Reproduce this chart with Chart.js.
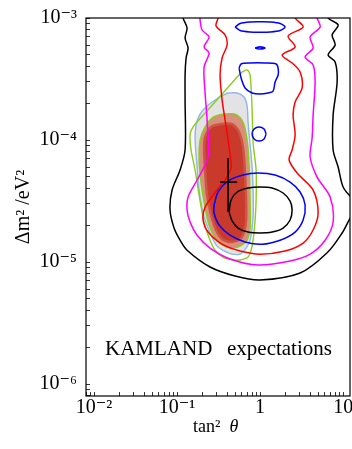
<!DOCTYPE html>
<html><head><meta charset="utf-8">
<script src="https://cdn.jsdelivr.net/npm/chart.js@4"></script>
<style>html,body{margin:0;padding:0;background:#fff;overflow:hidden;width:352px;height:449px}canvas{display:block}</style>
</head><body>
<canvas id="c" width="362" height="449"></canvas>
<script>
// ---- axes ----
const xRange = [0.008, 12.1];
const yRange = [7.98e-7, 1e-3];
const xTickValues = [0.01, 0.1, 1, 10];
const xTickLabels = ['10⁻²', '10⁻¹', '1', '10'];
const yTickValues = [1e-6, 1e-5, 1e-4, 1e-3];
const yTickLabels = ['10⁻⁶', '10⁻⁵', '10⁻⁴', '10⁻³'];
const xTitle = ['tan²', 'θ'];
const yTitle = 'Δm² /eV²';
const note = ['KAMLAND', 'expectations'];

// ---- contours: [tan²θ, Δm² (eV²)] ----
const blackOuter = [[0.1181,1.12e-3],[0.1181,1.0e-3],[0.132,8.28e-4],[0.1249,6.86e-4],[0.1357,5.68e-4],[0.1284,4.70e-4],[0.1249,3.41e-4],[0.1249,2.13e-4],[0.1249,8.28e-5],[0.1087,5.68e-5],[0.0871,3.89e-5],[0.0823,2.67e-5],[0.092,1.90e-5],[0.1087,1.51e-5],[0.132,1.25e-5],[0.2498,9.10e-6],[0.4996,7.68e-6],[1.0,7.12e-6],[3.034,8.12e-6],[6.416,1.19e-5],[9.727,1.73e-5],[12.83,2.43e-5],[16.94,2.93e-5],[12.83,3.35e-5],[10.0,4.12e-5],[8.707,6.01e-5],[7.578,8.28e-5],[7.578,1.60e-4],[8.468,2.99e-4],[8.009,4.36e-4],[6.596,4.97e-4],[8.009,6.01e-4],[7.371,7.26e-4],[8.707,8.76e-4],[6.596,1.0e-3],[6.596,1.12e-3]];
const blackInner = [[0.4231,2.57e-5],[0.4472,3.22e-5],[0.5283,3.75e-5],[0.7167,4.04e-5],[1.0,4.12e-5],[1.395,4.04e-5],[1.893,3.68e-5],[2.298,3.16e-5],[2.429,2.67e-5],[2.298,2.21e-5],[1.893,1.90e-5],[1.395,1.76e-5],[1.0,1.73e-5],[0.7167,1.76e-5],[0.543,1.90e-5],[0.4598,2.17e-5]];
const bestFitV = [[0.4116,7.12e-5],[0.4116,2.57e-5]];
const bestFitH = [[0.3296,4.52e-5],[0.5283,4.52e-5]];
const blueLoop = [[0.279,2.93e-5],[0.3119,3.75e-5],[0.4116,4.61e-5],[0.6239,5.16e-5],[0.9461,5.36e-5],[1.516,5.16e-5],[2.298,4.52e-5],[3.034,3.75e-5],[3.485,2.93e-5],[3.297,2.21e-5],[2.641,1.76e-5],[1.742,1.51e-5],[1.057,1.40e-5],[0.6595,1.46e-5],[0.435,1.66e-5],[0.3206,2.01e-5],[0.279,2.52e-5]];
const blueCircle = [[1.181,1.12e-4],[1.117,1.23e-4],[0.9726,1.28e-4],[0.8467,1.23e-4],[0.8009,1.12e-4],[0.8467,1.02e-4],[0.9726,9.81e-5],[1.117,1.02e-4]];
const blueCup = [[0.5585,3.89e-4],[0.5903,3.22e-4],[0.6595,2.67e-4],[0.8009,2.43e-4],[1.0,2.38e-4],[1.249,2.43e-4],[1.434,2.52e-4],[1.516,2.99e-4],[1.648,3.41e-4],[1.648,3.89e-4],[1.559,4.20e-4],[1.149,4.28e-4],[0.7577,4.28e-4],[0.5903,4.20e-4]];
const blueDash = [[0.8706,5.68e-4],[1.0,5.79e-4],[1.149,5.68e-4],[1.0,5.57e-4]];
const blueTop = [[0.4996,8.44e-4],[0.5741,9.01e-4],[0.7577,9.27e-4],[1.0,9.30e-4],[1.320,9.27e-4],[1.742,9.01e-4],[2.001,8.44e-4],[1.742,7.90e-4],[1.320,7.68e-4],[1.0,7.65e-4],[0.7577,7.68e-4],[0.5741,7.90e-4]];
const redOpen = [[0.3119,1.12e-3],[0.3119,1.0e-3],[0.2949,8.60e-4],[0.3786,7.26e-4],[0.4003,6.01e-4],[0.3484,4.70e-4],[0.3296,3.41e-4],[0.3484,2.13e-4],[0.3786,1.46e-4],[0.4116,1.0e-4],[0.435,7.53e-5],[0.4472,5.90e-5],[0.3786,4.70e-5],[0.3032,3.89e-5],[0.2175,2.82e-5],[0.2057,2.21e-5],[0.2363,1.76e-5],[0.3484,1.40e-5],[0.5741,1.23e-5],[1.0,1.16e-5],[2.001,1.23e-5],[3.297,1.43e-5],[4.351,1.83e-5],[4.999,2.52e-5],[4.351,3.89e-5],[2.792,5.36e-5],[2.236,6.86e-5],[2.429,8.28e-5],[2.641,1.10e-4],[2.498,1.60e-4],[2.641,2.05e-4],[3.206,2.67e-4],[3.034,3.61e-4],[2.429,4.28e-4],[1.841,4.97e-4],[2.641,5.79e-4],[2.175,7.12e-4],[3.297,8.44e-4],[2.641,1.0e-3],[2.641,1.12e-3]];
const magentaOpen = [[0.1893,1.12e-3],[0.1893,9.63e-4],[0.2001,7.97e-4],[0.2429,6.99e-4],[0.2115,5.79e-4],[0.2429,5.16e-4],[0.2115,3.97e-4],[0.2175,2.43e-4],[0.2298,1.46e-4],[0.2363,7.26e-5],[0.1742,4.70e-5],[0.1357,3.41e-5],[0.132,2.67e-5],[0.1434,2.13e-5],[0.1742,1.66e-5],[0.2498,1.30e-5],[0.435,1.06e-5],[0.9461,9.45e-6],[2.298,1.02e-5],[4.004,1.16e-5],[6.068,1.51e-5],[7.578,2.13e-5],[6.973,3.41e-5],[4.862,4.97e-5],[4.004,7.26e-5],[4.232,1.04e-4],[4.351,1.60e-4],[4.599,2.99e-4],[4.351,4.12e-4],[3.485,4.79e-4],[4.351,5.68e-4],[4.004,6.99e-4],[5.284,8.44e-4],[4.862,1.0e-3],[4.862,1.12e-3]];
const greenOuter = [[0.6069,3.61e-4],[0.6971,3.75e-4],[0.7577,3.41e-4],[0.8009,1.76e-4],[0.8236,9.45e-5],[0.895,5.68e-5],[0.895,3.22e-5],[0.8706,2.21e-5],[0.8236,1.51e-5],[0.7789,1.25e-5],[0.7167,1.10e-5],[0.5741,1.04e-5],[0.4727,1.04e-5],[0.3683,1.08e-5],[0.2869,1.25e-5],[0.2498,1.51e-5],[0.2115,2.13e-5],[0.1841,3.54e-5],[0.1648,5.68e-5],[0.1475,8.28e-5],[0.1434,1.10e-4],[0.1559,1.28e-4],[0.2175,1.66e-4],[0.3582,2.43e-4],[0.543,3.35e-4]];
const lightBlue = [[0.4116,2.43e-4],[0.5283,2.43e-4],[0.6414,2.25e-4],[0.6971,1.90e-4],[0.7167,1.40e-4],[0.7577,9.10e-5],[0.8009,6.01e-5],[0.8236,3.89e-5],[0.8236,2.34e-5],[0.7577,1.51e-5],[0.678,1.30e-5],[0.5741,1.16e-5],[0.4598,1.16e-5],[0.3894,1.21e-5],[0.3032,1.35e-5],[0.2498,1.73e-5],[0.2057,2.52e-5],[0.1841,3.89e-5],[0.1742,6.01e-5],[0.1648,1.0e-4],[0.1694,1.33e-4],[0.1893,1.63e-4],[0.2298,1.90e-4],[0.3119,2.21e-4]];
const innerGreen = [[0.3484,1.63e-4],[0.4996,1.63e-4],[0.6239,1.40e-4],[0.6971,1.0e-4],[0.7369,6.24e-5],[0.7577,3.22e-5],[0.7577,1.90e-5],[0.6971,1.51e-5],[0.5741,1.35e-5],[0.4598,1.30e-5],[0.3484,1.38e-5],[0.2869,1.57e-5],[0.2429,2.01e-5],[0.2175,2.77e-5],[0.1946,4.44e-5],[0.1841,6.86e-5],[0.1893,1.0e-4],[0.2175,1.28e-4],[0.2714,1.54e-4]];
const redCore = [[0.3296,1.35e-4],[0.4598,1.35e-4],[0.5585,1.16e-4],[0.6239,8.60e-5],[0.6595,5.16e-5],[0.678,3.22e-5],[0.678,2.21e-5],[0.6414,1.76e-5],[0.5741,1.54e-5],[0.4598,1.46e-5],[0.3484,1.54e-5],[0.2949,1.83e-5],[0.2568,2.43e-5],[0.2298,3.54e-5],[0.2175,5.68e-5],[0.2115,8.28e-5],[0.2175,1.06e-4],[0.2568,1.28e-4]];

function ds(pts, color, width, order, closed, extra) {
  const p = closed ? pts.concat([pts[0]]) : pts;
  return Object.assign({
    data: p.map(q => ({x: q[0], y: q[1]})),
    showLine: true, borderColor: color, borderWidth: width,
    pointRadius: 0, pointHoverRadius: 0, tension: 0.3, fill: false, order
  }, extra || {});
}

const datasets = [
  ds(lightBlue, '#8fb6e6', 1.4, 20, true, {fill: 'shape', backgroundColor: '#e3e3e5'}),
  ds(greenOuter, '#8ccc1c', 1.4, 19, true),
  ds(innerGreen, '#8ccc1c', 1.4, 18, true, {fill: 'shape', backgroundColor: '#d8907c'}),
  ds(redCore, '#cd5542', 2.5, 17, true, {fill: 'shape', backgroundColor: '#c9392c'}),
  ds(magentaOpen, '#ff00ff', 1.5, 5, false),
  ds(redOpen, '#ff0000', 1.5, 4, false),
  ds(blackOuter, '#000000', 1.5, 6, false),
  ds(blackInner, '#000000', 1.5, 3, true),
  ds(blueLoop, '#0000ff', 1.5, 2, true),
  ds(blueCircle, '#0000ff', 1.5, 2, true),
  ds(blueCup, '#0000ff', 1.5, 2, true),
  ds(blueDash, '#0000ff', 1.7, 2, true),
  ds(blueTop, '#0000ff', 1.5, 2, true),
  ds(bestFitV, '#000000', 1.5, 1, false, {tension: 0}),
  ds(bestFitH, '#000000', 1.5, 1, false, {tension: 0})
];

function minorTicks(scale) {
  const t = [];
  const e0 = Math.floor(Math.log10(scale.min)), e1 = Math.ceil(Math.log10(scale.max));
  for (let e = e0; e <= e1; e++) {
    for (let m = 1; m <= 9; m++) {
      const v = m * Math.pow(10, e);
      if (v >= scale.min * 0.9999 && v <= scale.max * 1.0001) t.push({value: v});
    }
  }
  scale.ticks = t;
}
function labelFor(values, labels) {
  return v => {
    for (let i = 0; i < values.length; i++) if (Math.abs(v / values[i] - 1) < 1e-6) return labels[i];
    return '';
  };
}
const SERIF = '"Liberation Serif", "DejaVu Serif", serif';

const deco = {
  id: 'deco',
  afterDraw(chart) {
    const {ctx, chartArea: a} = chart;
    ctx.save();
    ctx.strokeStyle = '#000';
    ctx.lineWidth = 1.2;
    ctx.strokeRect(a.left, a.top, a.right - a.left, a.bottom - a.top);
    ctx.fillStyle = '#000';
    ctx.textBaseline = 'alphabetic';
    ctx.font = '21px ' + SERIF;
    ctx.textAlign = 'left';
    ctx.fillText(note[0], 105, 355);
    ctx.fillText(note[1], 227, 355);
    // x title
    ctx.font = '18px ' + SERIF;
    ctx.fillText(xTitle[0], 193, 432);
    const w = ctx.measureText(xTitle[0] + '  ').width;
    ctx.font = 'italic 18px ' + SERIF;
    ctx.fillText(xTitle[1], 193 + w, 432);
    // y title
    ctx.translate(24, (a.top + a.bottom) / 2);
    ctx.rotate(-Math.PI / 2);
    ctx.font = '20px ' + SERIF;
    ctx.textAlign = 'center';
    ctx.textBaseline = 'middle';
    ctx.fillText(yTitle, 0, 0);
    ctx.restore();
  }
};

new Chart(document.getElementById('c'), {
  type: 'scatter',
  data: {datasets},
  plugins: [deco],
  options: {
    responsive: false, animation: false, events: [],
    layout: {padding: {left: 0, right: 12, top: 18, bottom: 1}},
    plugins: {legend: {display: false}, tooltip: {enabled: false}},
    scales: {
      x: {
        type: 'logarithmic', min: xRange[0], max: xRange[1],
        afterBuildTicks: minorTicks,
        afterFit: s => { s.height = 52; s.paddingLeft = 0; s.paddingRight = 0; },
        border: {display: false},
        grid: {drawOnChartArea: false, drawTicks: true, tickLength: -4, color: '#000', tickWidth: 0.8},
        ticks: {autoSkip: false, maxRotation: 0, padding: 4, color: '#000',
          font: {family: SERIF, size: 20}, callback: labelFor(xTickValues, xTickLabels)}
      },
      y: {
        type: 'logarithmic', min: yRange[0], max: yRange[1],
        afterBuildTicks: minorTicks,
        afterFit: s => { s.width = 86; s.paddingTop = 0; s.paddingBottom = 0; },
        border: {display: false},
        grid: {drawOnChartArea: false, drawTicks: true, tickLength: -4, color: '#000', tickWidth: 0.8},
        ticks: {autoSkip: false, padding: 13, color: '#000',
          font: {family: SERIF, size: 20}, callback: labelFor(yTickValues, yTickLabels)}
      }
    }
  }
});
</script>
</body></html>
